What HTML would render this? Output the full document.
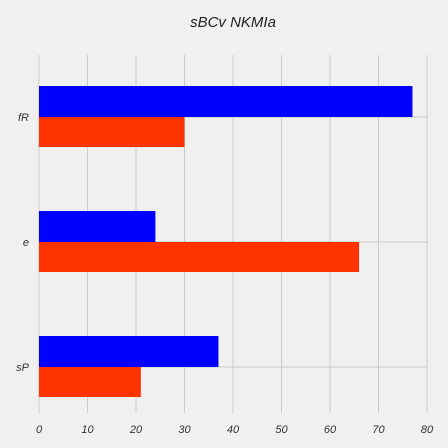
<!DOCTYPE html>
<html><head><meta charset="utf-8"><style>
html,body{margin:0;padding:0;background:#f0f0f0;}
svg{display:block;font-family:"Liberation Sans",sans-serif;font-style:italic;}
</style></head><body>
<svg id="c" width="448" height="448">
<text x="233" y="27" text-anchor="middle" font-size="15" fill="#222">sBCv NKMIa</text>
<g id="grid"></g><g id="bars"></g><g id="labels"></g>
</svg>
<script>
const categories = ["sP","e","fR"];
const blueValues = [37,24,77];
const orangeValues = [21,66,30];
const xTicks = [0,10,20,30,40,50,60,70,80];
const X0=39, X1=427, XMAX=80, PLOT_TOP=55, PLOT_BOTTOM=413;
const x=v=>X0+(X1-X0)*v/XMAX;
const yc=i=>367-125*i;
const NS="http://www.w3.org/2000/svg";
function mk(t,a,p){const e=document.createElementNS(NS,t);for(const k in a)e.setAttribute(k,a[k]);p.appendChild(e);return e;}
const grid=document.getElementById('grid'),bars=document.getElementById('bars'),labels=document.getElementById('labels');
xTicks.forEach(t=>{
  const l=mk('line',{x1:x(t),x2:x(t),y1:PLOT_TOP,y2:PLOT_BOTTOM,stroke:'#cbcbcb','stroke-width':1},grid);
  
  
  const tx=mk('text',{x:x(t),y:433,'text-anchor':'middle','font-size':11,fill:'#333'},labels);
  tx.textContent=t;
  
  
});
categories.forEach((c,i)=>{
  const g=mk('line',{x1:X0,x2:X1,y1:yc(i),y2:yc(i),stroke:'#cbcbcb','stroke-width':1},grid);
  
  
  const b=mk('rect',{x:X0,y:yc(i)-31,width:x(blueValues[i])-X0,height:31,fill:'#0000ff'},bars);
  
  
  const o=mk('rect',{x:X0,y:yc(i),width:x(orangeValues[i])-X0,height:30,fill:'#ff3300'},bars);
  
  
  const t=mk('text',{x:29,y:yc(i)+4,'text-anchor':'end','font-size':11,fill:'#333'},labels);
  t.textContent=c;
  
  
});
</script>
</body></html>
